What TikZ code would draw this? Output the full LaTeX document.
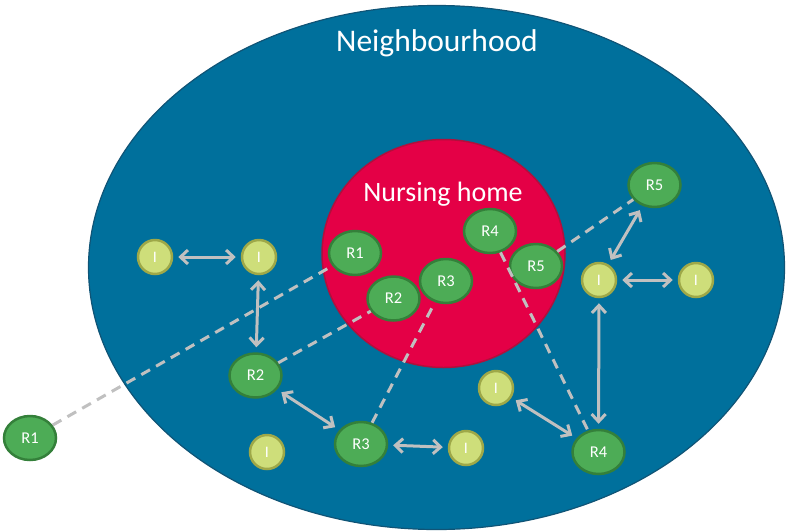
\documentclass[tikz,border=0pt]{standalone}
\usepackage{fontspec}
\setmainfont{Carlito}
\usetikzlibrary{arrows.meta,shapes.geometric}
\definecolor{hoodblue}{RGB}{0,112,156}
\definecolor{hoodedge}{RGB}{16,84,118}
\definecolor{homered}{RGB}{228,0,70}
\definecolor{homeedge}{RGB}{176,16,60}
\definecolor{resgreen}{RGB}{77,172,86}
\definecolor{resedge}{RGB}{52,128,58}
\definecolor{infill}{RGB}{206,222,122}
\definecolor{inedge}{RGB}{158,168,72}
\definecolor{linkgray}{RGB}{192,192,192}
\tikzset{
  res/.style={ellipse, fill=resgreen, draw=resedge, line width=2.5pt,
    minimum width=52pt, minimum height=44pt, inner sep=0pt,
    text=white, font=\fontsize{16.5}{16.5}\selectfont},
  inf/.style={circle, fill=infill, draw=inedge, line width=2.5pt,
    minimum size=34pt, inner sep=0pt,
    text=white, font=\fontsize{16}{16}\selectfont},
  tie/.style={draw=linkgray, line width=3pt, dash pattern=on 10pt off 7pt},
  twoway/.style={draw=linkgray, line width=3pt,
    {Straight Barb[length=7.5pt,width=14pt]}-{Straight Barb[length=7.5pt,width=14pt]},
    shorten <=5pt, shorten >=5pt},
}
\begin{document}
\begin{tikzpicture}[x=1pt,y=-1pt]
\useasboundingbox (0,0) rectangle (787,531);
% neighbourhood
\draw[fill=hoodblue, draw=hoodedge, line width=1.2pt] (436.5,267.5) ellipse [x radius=348pt, y radius=262pt];
\node[text=white, font=\fontsize{31.5}{31.5}\selectfont] (hoodlabel) at (437,43) {Neighbourhood};
% nursing home
\draw[fill=homered, draw=homeedge, line width=1.5pt] (443.5,253.5) ellipse [x radius=121.5pt, y radius=114pt];
\node[text=white, font=\fontsize{28}{28}\selectfont] (homelabel) at (443,194) {Nursing home};
% residents inside
\node[res] (R1i) at (355,253) {R1};
\node[res] (R2i) at (393.5,298.5) {R2};
\node[res] (R3i) at (446,281) {R3};
\node[res] (R4i) at (490,231) {R4};
\node[res] (R5i) at (536,266) {R5};
% residents outside
\node[res] (R1o) at (30,438) {R1};
\node[res] (R2o) at (255.5,375.5) {R2};
\node[res] (R3o) at (361,444) {R3};
\node[res] (R4o) at (598.5,452) {R4};
\node[res] (R5o) at (654.5,185) {R5};
% informal contacts
\node[inf] (Ia) at (155,257) {I};
\node[inf] (Ib) at (259,257) {I};
\node[inf] (Ic) at (267,452) {I};
\node[inf] (Id) at (466,448) {I};
\node[inf] (Ie) at (496,388) {I};
\node[inf] (If) at (599,280) {I};
\node[inf] (Ig) at (696,280) {I};
% dashed ties
\draw[tie] (R1o) -- (R1i);
\draw[tie] (R2o) -- (R2i);
\draw[tie] (R3o) -- (R3i);
\draw[tie] (R4i) -- (R4o);
\draw[tie] (R5i) -- (R5o);
% two-way arrows
\draw[twoway] (Ia) -- (Ib);
\draw[twoway] (Ib) -- (R2o);
\draw[twoway] (R2o) -- (R3o);
\draw[twoway] (R3o) -- (Id);
\draw[twoway] (Ie) -- (R4o);
\draw[twoway] (If) -- (R4o);
\draw[twoway] (If) -- (R5o);
\draw[twoway] (If) -- (Ig);
\end{tikzpicture}
\end{document}
